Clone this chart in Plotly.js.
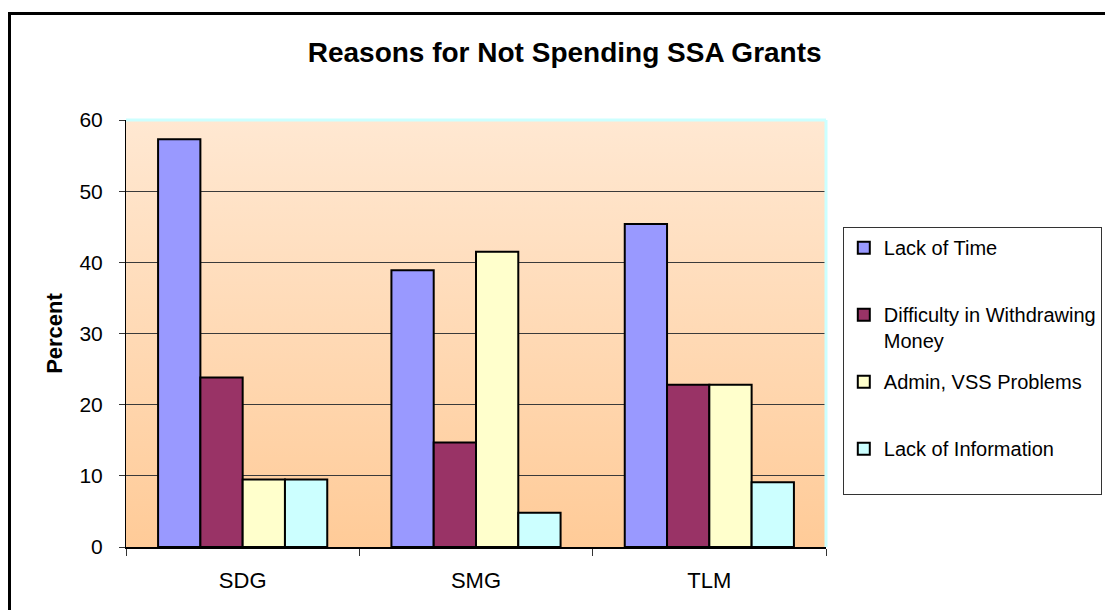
<!DOCTYPE html>
<html>
<head>
<meta charset="utf-8">
<script src="https://cdn.plot.ly/plotly-3.0.1.min.js"></script>
<style>
html, body { margin:0; padding:0; overflow:hidden; background:#fff; }
#chart { width:1105px; height:610px; }
#frame { position:absolute; left:8px; top:12px; width:2000px; height:2000px;
  border-left:3px solid #000; border-top:3px solid #000; pointer-events:none; }
</style>
</head>
<body>
<div id="chart"></div>
<div id="frame"></div>
<script>
const categories = ['SDG', 'SMG', 'TLM'];
const seriesNames = ['Lack of Time', 'Difficulty in Withdrawing<br>Money', 'Admin, VSS Problems', 'Lack of Information'];
const lackOfTime = [57.3, 38.9, 45.4];
const difficultyWithdrawing = [23.8, 14.7, 22.8];
const adminVSS = [9.5, 41.5, 22.8];
const lackOfInformation = [9.5, 4.8, 9.1];
const yTicks = [0, 10, 20, 30, 40, 50, 60];

const colors = ['#9999FF', '#993366', '#FFFFCC', '#CCFFFF'];
const values = [lackOfTime, difficultyWithdrawing, adminVSS, lackOfInformation];
const FONT = '"Liberation Sans", Arial, sans-serif';

const traces = values.map((v, i) => ({
  type: 'bar',
  x: categories,
  y: v,
  name: seriesNames[i].includes('<br>') ? seriesNames[i] : seriesNames[i] + '<br> ',
  legendgroup: 'g' + i,
  marker: { color: colors[i], line: { color: '#000', width: 2 } },
  hoverinfo: 'x+y'
}));

const svg = "<svg xmlns='http://www.w3.org/2000/svg' width='100' height='100' preserveAspectRatio='none'>" +
  "<defs><linearGradient id='g' x1='0' y1='0' x2='0' y2='1'>" +
  "<stop offset='0' stop-color='#FFE8D2'/><stop offset='1' stop-color='#FFCB98'/>" +
  "</linearGradient></defs><rect width='100' height='100' fill='url(#g)'/></svg>";

const layout = {
  width: 1105, height: 610,
  margin: { l: 126, r: 279, t: 120, b: 63, autoexpand: false },
  paper_bgcolor: '#fff',
  plot_bgcolor: 'rgba(0,0,0,0)',
  font: { family: FONT, color: '#000', size: 20 },
  title: {
    text: '<b>Reasons for Not Spending SSA Grants</b>',
    font: { family: FONT, size: 28, color: '#000' },
    xref: 'container', x: 0.511, xanchor: 'center',
    yref: 'container', y: 0.915, yanchor: 'middle'
  },
  barmode: 'group',
  bargap: 0.275,
  bargroupgap: 0,
  xaxis: {
    type: 'category',
    tickson: 'boundaries',
    ticks: 'outside', ticklen: 7, tickwidth: 1, tickcolor: '#333',
    showline: true, linecolor: '#000', linewidth: 2,
    showgrid: false,
    tickfont: { family: FONT, size: 22, color: '#000' },
    ticklabelstandoff: 13,
    fixedrange: true
  },
  yaxis: {
    range: [0, 60],
    tickvals: yTicks,
    ticks: 'outside', ticklen: 6, tickwidth: 1, tickcolor: '#333',
    showline: true, linecolor: '#000', linewidth: 1,
    showgrid: true, gridcolor: '#3a3a3a', gridwidth: 1,
    zeroline: false,
    tickfont: { family: FONT, size: 21, color: '#000' },
    ticklabelstandoff: 12,
    title: { text: '<b>Percent</b>', font: { family: FONT, size: 22, color: '#000' }, standoff: 10 },
    fixedrange: true
  },
  legend: {
    x: 1.024, xanchor: 'left',
    y: 0.749, yanchor: 'top',
    bgcolor: '#fff',
    bordercolor: '#333', borderwidth: 1,
    font: { family: FONT, size: 20, color: '#000' },
    traceorder: 'grouped',
    tracegroupgap: 12,
    valign: 'top',
    itemwidth: 30
  },
  images: [{
    source: 'data:image/svg+xml;charset=utf-8,' + encodeURIComponent(svg),
    xref: 'paper', yref: 'paper', x: 0, y: 1, sizex: 1, sizey: 1,
    xanchor: 'left', yanchor: 'top', sizing: 'stretch', layer: 'below'
  }],
  shapes: [
    { type: 'line', xref: 'paper', yref: 'paper', x0: 0, x1: 1, y0: 1, y1: 1, line: { color: '#CCFFFF', width: 3 } },
    { type: 'line', xref: 'paper', yref: 'paper', x0: 1, x1: 1, y0: 0, y1: 1, line: { color: '#CCFFFF', width: 3 } }
  ]
};

Plotly.newPlot('chart', traces, layout, { displayModeBar: false, staticPlot: true });
</script>
</body>
</html>
